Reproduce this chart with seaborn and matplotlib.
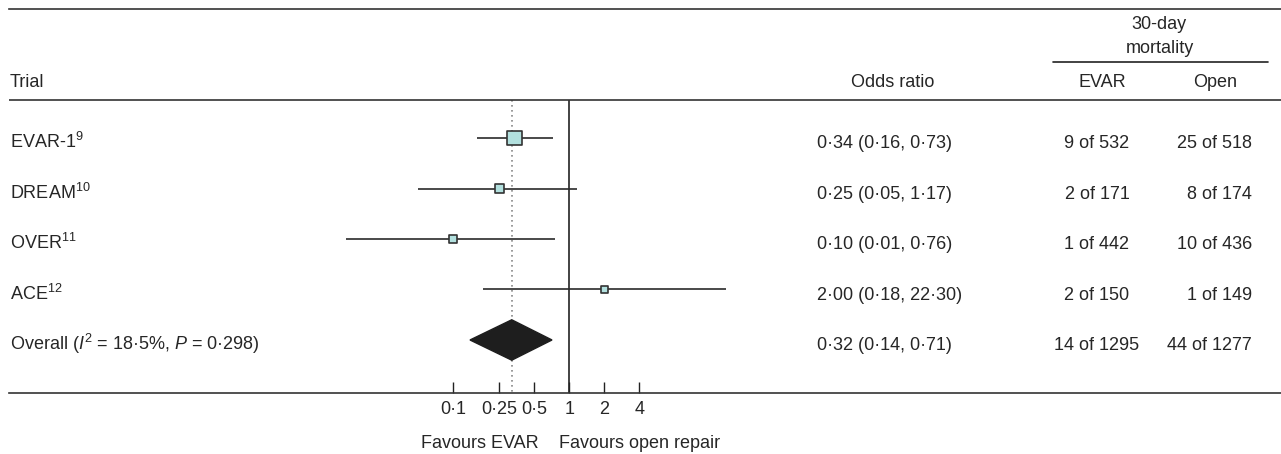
import matplotlib
matplotlib.use("Agg")
import numpy as np
import pandas as pd
import seaborn as sns
import matplotlib.pyplot as plt
from matplotlib.ticker import FixedLocator, FixedFormatter, NullLocator

# Data
trials = ["EVAR-1$^{9}$", "DREAM$^{10}$", "OVER$^{11}$", "ACE$^{12}$"]
odds = [0.34, 0.25, 0.10, 2.00]
ci_low = [0.16, 0.05, 0.012, 0.18]
ci_high = [0.73, 1.17, 0.76, 22.30]
weights = [53, 21, 15, 11]
or_text = ["0·34 (0·16, 0·73)", "0·25 (0·05, 1·17)", "0·10 (0·01, 0·76)", "2·00 (0·18, 22·30)"]
evar_deaths = ["9 of 532", "2 of 171", "1 of 442", "2 of 150"]
open_deaths = ["25 of 518", "8 of 174", "10 of 436", "1 of 149"]

overall_label = r"Overall ($I^{2}$ = 18·5%, $P$ = 0·298)"
overall_or = 0.32
overall_low = 0.14
overall_high = 0.71
overall_text = "0·32 (0·14, 0·71)"
overall_evar = "14 of 1295"
overall_open = "44 of 1277"

tick_values = [0.1, 0.25, 0.5, 1, 2, 4]
tick_labels = ["0·1", "0·25", "0·5", "1", "2", "4"]

sns.set_theme(style="white")
plt.rcParams["font.family"] = ["Liberation Sans", "DejaVu Sans"]
plt.rcParams["mathtext.fontset"] = "custom"
plt.rcParams["mathtext.rm"] = "Liberation Sans"
plt.rcParams["mathtext.it"] = "Liberation Sans:italic"
plt.rcParams["mathtext.bf"] = "Liberation Sans:bold"

FS = 13
W, H = 1281, 454
fig = plt.figure(figsize=(W / 100, H / 100), dpi=100)
left_px, top_px, bot_px = 9, 9.3, 393
ax = fig.add_axes([left_px / W, (H - bot_px) / H, (W - left_px) / W, (bot_px - top_px) / H])

df = pd.DataFrame({"row": np.arange(len(trials)), "odds": odds, "lo": ci_low,
                   "hi": ci_high, "weight": weights})
n = len(trials)
overall_row = n

# confidence intervals
ax.hlines(df["row"], df["lo"], df["hi"], color="#2a2a2a", lw=1.2, zorder=2)
# study squares
sns.scatterplot(data=df, x="odds", y="row", size="weight", sizes=(23, 112),
                size_norm=(11, 53), marker="s", color="#b2e0de",
                edgecolor="#333333", linewidth=1.2, legend=False, zorder=3, ax=ax)

# overall diamond
h = 0.4
ax.fill([overall_low, overall_or, overall_high, overall_or],
        [overall_row, overall_row - h, overall_row, overall_row + h],
        color="#1e1e1e", zorder=3)

header_y = -0.752
ax.vlines(1, header_y, 5.05, color="#222222", lw=1.2, zorder=1)
ax.vlines(overall_or, header_y, 5.05, color="#888888", lw=1.2,
          linestyles=(0, (1, 2)), zorder=1)
ax.axhline(header_y, color="#333333", lw=1.2)

ax.set_xscale("log")
ax.set_xlim(10 ** ((left_px - 569.3) / 116.3), 10 ** ((W - 569.3) / 116.3))
ax.set_ylim(5.05, -2.549)
ax.xaxis.set_major_locator(FixedLocator(tick_values))
ax.xaxis.set_major_formatter(FixedFormatter(tick_labels))
ax.xaxis.set_minor_locator(NullLocator())
ax.set_yticks([])
ax.set_xlabel("")
ax.set_ylabel("")
ax.tick_params(axis="x", direction="in", length=8, width=1, color="#222222",
               labelsize=FS, pad=6, bottom=True)
for side in ["left", "right"]:
    ax.spines[side].set_visible(False)
for side in ["top", "bottom"]:
    ax.spines[side].set_color("#333333")
    ax.spines[side].set_linewidth(1.2)

trans = ax.get_yaxis_transform()


def px(x):
    return (x - left_px) / (W - left_px)


# header
base = -1.01
ax.text(px(10), base, "Trial", transform=trans, fontsize=FS, ha="left", va="baseline")
ax.text(px(893), base, "Odds ratio", transform=trans, fontsize=FS, ha="center", va="baseline")
ax.text(px(1102), base, "EVAR", transform=trans, fontsize=FS, ha="center", va="baseline")
ax.text(px(1215), base, "Open", transform=trans, fontsize=FS, ha="center", va="baseline")
ax.text(px(1159), -2.152, "30-day", transform=trans, fontsize=FS, ha="center", va="baseline")
ax.text(px(1160), -1.689, "mortality", transform=trans, fontsize=FS, ha="center", va="baseline")
ax.plot([px(1053), px(1268)], [-1.511, -1.511], transform=trans, color="#222222",
        lw=1.2, clip_on=False)

# rows
off = 0.2
labels = trials + [overall_label]
ors = or_text + [overall_text]
evs = evar_deaths + [overall_evar]
ops = open_deaths + [overall_open]
for i in range(n + 1):
    y = i + off
    ax.text(px(10), y, labels[i], transform=trans, fontsize=FS, ha="left", va="baseline")
    ax.text(px(817), y, ors[i], transform=trans, fontsize=FS, ha="left", va="baseline")
    ax.text(px(1097), y, evs[i], transform=trans, fontsize=FS, ha="center", va="baseline")
    ax.text(px(1252), y, ops[i], transform=trans, fontsize=FS, ha="right", va="baseline")

fig.text(539 / W, 1 - 448 / H, "Favours EVAR", fontsize=FS, ha="right", va="baseline")
fig.text(559 / W, 1 - 448 / H, "Favours open repair", fontsize=FS, ha="left", va="baseline")

fig.savefig("out.png", dpi=100)
